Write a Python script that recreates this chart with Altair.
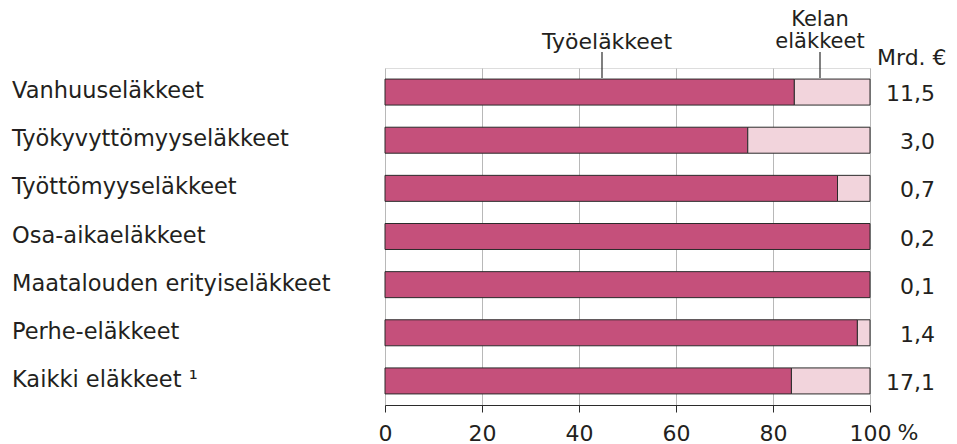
import altair as alt
import pandas as pd

# ---- data -------------------------------------------------------------
categories = [
    "Vanhuuseläkkeet",
    "Työkyvyttömyyseläkkeet",
    "Työttömyyseläkkeet",
    "Osa-aikaeläkkeet",
    "Maatalouden erityiseläkkeet",
    "Perhe-eläkkeet",
    "Kaikki eläkkeet \u00b9",
]
tyoelakkeet = [84.4, 74.8, 93.3, 100.0, 100.0, 97.4, 83.8]   # % share
kelan = [15.6, 25.2, 6.7, 0.0, 0.0, 2.6, 16.2]                # % share
totals = ["11,5", "3,0", "0,7", "0,2", "0,1", "1,4", "17,1"]  # Mrd. €
x_ticks = [0, 20, 40, 60, 80, 100]
series = ["Työeläkkeet", "Kelan eläkkeet"]

FONT = "DejaVu Sans"
TXT = "#231f20"
DARK = "#2b2b2b"

rows = []
for c, a, b in zip(categories, tyoelakkeet, kelan):
    rows.append({"category": c, "series": series[0], "value": a, "ord": 0})
    rows.append({"category": c, "series": series[1], "value": b, "ord": 1})
bars_df = pd.DataFrame(rows)
cat_df = pd.DataFrame({"category": categories, "total": totals})

yenc = alt.Y("category:N", sort=categories, axis=None,
             scale=alt.Scale(paddingInner=0.46, paddingOuter=0.23))

bars = alt.Chart(bars_df).transform_filter("datum.value > 0").mark_bar(
    stroke=DARK, strokeWidth=1
).encode(
    x=alt.X("value:Q", stack="zero",
            scale=alt.Scale(domain=[0, 100], nice=False),
            axis=alt.Axis(values=x_ticks, title=None, grid=True, tickSize=7,
                          labelPadding=11, labelFontSize=22, labelFont=FONT,
                          labelColor=TXT, domainColor=DARK, tickColor=DARK,
                          gridColor="#b8b8b8", labelFlush=False)),
    y=yenc,
    color=alt.Color("series:N", scale=alt.Scale(domain=series,
                    range=["#c5507b", "#f2d4dc"]), legend=None),
    order=alt.Order("ord:Q"),
)

cat_labels = alt.Chart(cat_df).mark_text(
    align="left", baseline="alphabetic", dy=6, font=FONT, fontSize=22.5, color=TXT
).encode(x=alt.value(-373), y=yenc, text="category:N")

val_labels = alt.Chart(cat_df).mark_text(
    align="right", baseline="alphabetic", dy=9, font=FONT, fontSize=22, color=TXT
).encode(x=alt.value(550), y=yenc, text="total:N")

one = pd.DataFrame({"k": [0]})

def txt(s, x, y, align="center", size=22, baseline="alphabetic"):
    return alt.Chart(one).mark_text(
        align=align, baseline=baseline, font=FONT, fontSize=size, color=TXT, text=s
    ).encode(x=alt.value(x), y=alt.value(y))

def leader(x):
    return alt.Chart(one).mark_rule(color=DARK, strokeWidth=1.2).encode(
        x=alt.value(x), y=alt.value(-16), y2=alt.value(10))

chart = alt.layer(
    bars, cat_labels, val_labels,
    txt("Työeläkkeet", 222, -19),
    txt("Kelan", 435, -42, size=21),
    txt("eläkkeet", 435, -20, size=21),
    txt("Mrd. €", 492, -3, align="left"),
    txt("%", 523, 355, baseline="top"),
    leader(217), leader(435),
).properties(
    width=485, height=337,
    padding={"left": 377, "top": 60, "right": 79, "bottom": 39},
    autosize=alt.AutoSizeParams(type="none"),
).configure_view(stroke=DARK, strokeWidth=1.2).configure(background="white")

chart.save("out.html", embed_options={"renderer": "svg", "actions": False})
